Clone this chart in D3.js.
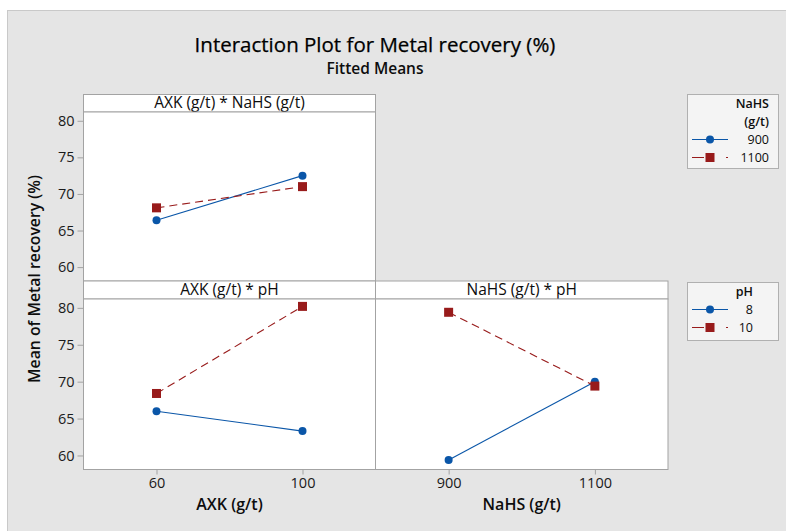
<!DOCTYPE html>
<html>
<head>
<meta charset="utf-8">
<script src="https://cdn.jsdelivr.net/npm/d3@7"></script>
<style>
  html, body { margin: 0; padding: 0; background: #fff; }
  svg { display: block; font-family: "Open Sans", "Noto Sans", sans-serif; }
</style>
</head>
<body>
<div id="chart"></div>
<script>
// data
const axkLevels = [60, 100];
const nahsLevels = [900, 1100];
const phLevels = ["8", "10"];
const nahsLegendLevels = ["900", "1100"];

const axkByNahs900 = [66.4, 72.5];
const axkByNahs1100 = [68.1, 71.0];
const axkByPh8 = [66.0, 63.3];
const axkByPh10 = [68.4, 80.2];
const nahsByPh8 = [59.4, 70.0];
const nahsByPh10 = [79.4, 69.4];

const yTicks = [60, 65, 70, 75, 80];

const width = 786;
const height = 531;
const blue = "#0a56a8";
const red = "#981b1b";
const frame = "#a3a3a3";
const ink = "#0d0d0d";

const svg = d3.select("#chart").append("svg")
    .attr("width", width)
    .attr("height", height);

// grey background
svg.append("rect")
    .attr("x", 7.5).attr("y", 10.5)
    .attr("width", width).attr("height", height)
    .attr("fill", "#e5e5e5")
    .attr("stroke", "#c9c9c9");

// title
svg.append("text")
    .attr("x", 375).attr("y", 52)
    .attr("text-anchor", "middle")
    .attr("font-size", 20.5)
    .attr("fill", "#000")
    .attr("stroke", "#000")
    .attr("stroke-width", 0.25)
    .text("Interaction Plot for Metal recovery (%)");

svg.append("text")
    .attr("x", 375).attr("y", 74)
    .attr("text-anchor", "middle")
    .attr("font-size", 15.5)
    .attr("font-weight", 600)
    .attr("fill", ink)
    .text("Fitted Means");

const colX = [83.5, 375.5, 668];
const rows = [
    {stripTop: 94.5, plotTop: 112, plotBottom: 281},
    {stripTop: 281, plotTop: 299, plotBottom: 469.5}
];

const panels = [
    {title: "AXK (g/t) * NaHS (g/t)", col: 0, row: 0, levels: axkLevels, domain: [40, 120],
        a: axkByNahs900, b: axkByNahs1100, yAxis: true},
    {title: "AXK (g/t) * pH", col: 0, row: 1, levels: axkLevels, domain: [40, 120],
        a: axkByPh8, b: axkByPh10, yAxis: true, xAxis: "AXK (g/t)"},
    {title: "NaHS (g/t) * pH", col: 1, row: 1, levels: nahsLevels, domain: [800, 1200],
        a: nahsByPh8, b: nahsByPh10, xAxis: "NaHS (g/t)"}
];

const tickStyle = a => a.selectAll(".tick text")
    .attr("font-size", 14.5).attr("fill", "#1a1a1a")
    .attr("font-family", "'Open Sans', sans-serif");

for (const p of panels) {
    const r = rows[p.row];
    const x0 = colX[p.col], x1 = colX[p.col + 1];

    const x = d3.scaleLinear().domain(p.domain).range([x0, x1]);
    const y = d3.scaleLinear().domain([58.1, 81.2]).range([r.plotBottom, r.plotTop]);

    const g = svg.append("g");

    // strip
    g.append("rect")
        .attr("x", x0).attr("y", r.stripTop)
        .attr("width", x1 - x0).attr("height", r.plotTop - r.stripTop)
        .attr("fill", "#fff").attr("stroke", frame);
    g.append("text")
        .attr("x", (x0 + x1) / 2).attr("y", r.plotTop - 4)
        .attr("text-anchor", "middle")
        .attr("font-size", 15.5)
        .attr("fill", ink)
        .text(p.title);

    // plot area
    g.append("rect")
        .attr("x", x0).attr("y", r.plotTop)
        .attr("width", x1 - x0).attr("height", r.plotBottom - r.plotTop)
        .attr("fill", "#fff").attr("stroke", frame);

    if (p.yAxis) {
        g.append("g")
            .attr("transform", `translate(${x0},0)`)
            .call(d3.axisLeft(y).tickValues(yTicks).tickSize(6).tickPadding(3))
            .call(a => a.select(".domain").remove())
            .call(a => a.selectAll(".tick line").attr("stroke", frame))
            .call(tickStyle);
    }

    if (p.xAxis) {
        g.append("g")
            .attr("transform", `translate(0,${r.plotBottom})`)
            .call(d3.axisBottom(x).tickValues(p.levels).tickFormat(d3.format("d")).tickSize(5).tickPadding(3))
            .call(a => a.select(".domain").remove())
            .call(a => a.selectAll(".tick line").attr("stroke", frame))
            .call(tickStyle);
        g.append("text")
            .attr("x", (x0 + x1) / 2).attr("y", 510)
            .attr("text-anchor", "middle")
            .attr("font-size", 16)
            .attr("font-weight", 600)
            .attr("fill", ink)
            .text(p.xAxis);
    }

    const line = d3.line()
        .x((d, i) => x(p.levels[i]))
        .y(d => y(d));

    g.append("path")
        .datum(p.a)
        .attr("fill", "none")
        .attr("stroke", blue)
        .attr("stroke-width", 1.1)
        .attr("d", line);

    g.append("path")
        .datum(p.b)
        .attr("fill", "none")
        .attr("stroke", red)
        .attr("stroke-width", 1.1)
        .attr("stroke-dasharray", "8,5")
        .attr("d", line);

    g.selectAll(".dot")
        .data(p.a)
        .join("circle")
        .attr("cx", (d, i) => x(p.levels[i]))
        .attr("cy", d => y(d))
        .attr("r", 4)
        .attr("fill", blue);

    g.selectAll(".sq")
        .data(p.b)
        .join("rect")
        .attr("x", (d, i) => x(p.levels[i]) - 4.5)
        .attr("y", d => y(d) - 4.5)
        .attr("width", 9).attr("height", 9)
        .attr("fill", red);
}

// y axis title
svg.append("text")
    .attr("transform", "translate(40,279) rotate(-90)")
    .attr("text-anchor", "middle")
    .attr("font-size", 15.8)
    .attr("font-weight", 600)
    .attr("fill", ink)
    .text("Mean of Metal recovery (%)");

// legends
function legend(top, h, titleLines, labels, textRight) {
    const lg = svg.append("g");
    lg.append("rect")
        .attr("x", 687.5).attr("y", top)
        .attr("width", 91).attr("height", h)
        .attr("fill", "#f4f4f4").attr("stroke", "#b0b0b0");
    titleLines.forEach((t, i) => {
        lg.append("text")
            .attr("x", textRight).attr("y", top + 13 + i * 18)
            .attr("text-anchor", "end")
            .attr("font-size", 12.5)
            .attr("font-weight", 600)
            .attr("fill", ink)
            .text(t);
    });
    const rowTop = top + 13 + (titleLines.length - 1) * 18;
    labels.forEach((lab, i) => {
        const cy = rowTop + 14 + i * 18;
        const isRed = i === 1;
        lg.append("line")
            .attr("x1", 692).attr("x2", 728)
            .attr("y1", cy).attr("y2", cy)
            .attr("stroke", isRed ? red : blue)
            .attr("stroke-width", 1.1)
            .attr("stroke-dasharray", isRed ? "12,22,2" : null);
        if (isRed) {
            lg.append("rect")
                .attr("x", 710 - 4.5).attr("y", cy - 4.5)
                .attr("width", 9).attr("height", 9)
                .attr("fill", red);
        } else {
            lg.append("circle")
                .attr("cx", 710).attr("cy", cy).attr("r", 4)
                .attr("fill", blue);
        }
        lg.append("text")
            .attr("x", textRight).attr("y", cy + 4.5)
            .attr("text-anchor", "end")
            .attr("font-size", 12.5)
            .attr("fill", ink)
            .text(lab);
    });
}

legend(94.5, 74, ["NaHS", "(g/t)"], nahsLegendLevels, 769);
legend(282.5, 58, ["pH"], phLevels, 753);
</script>
</body>
</html>
